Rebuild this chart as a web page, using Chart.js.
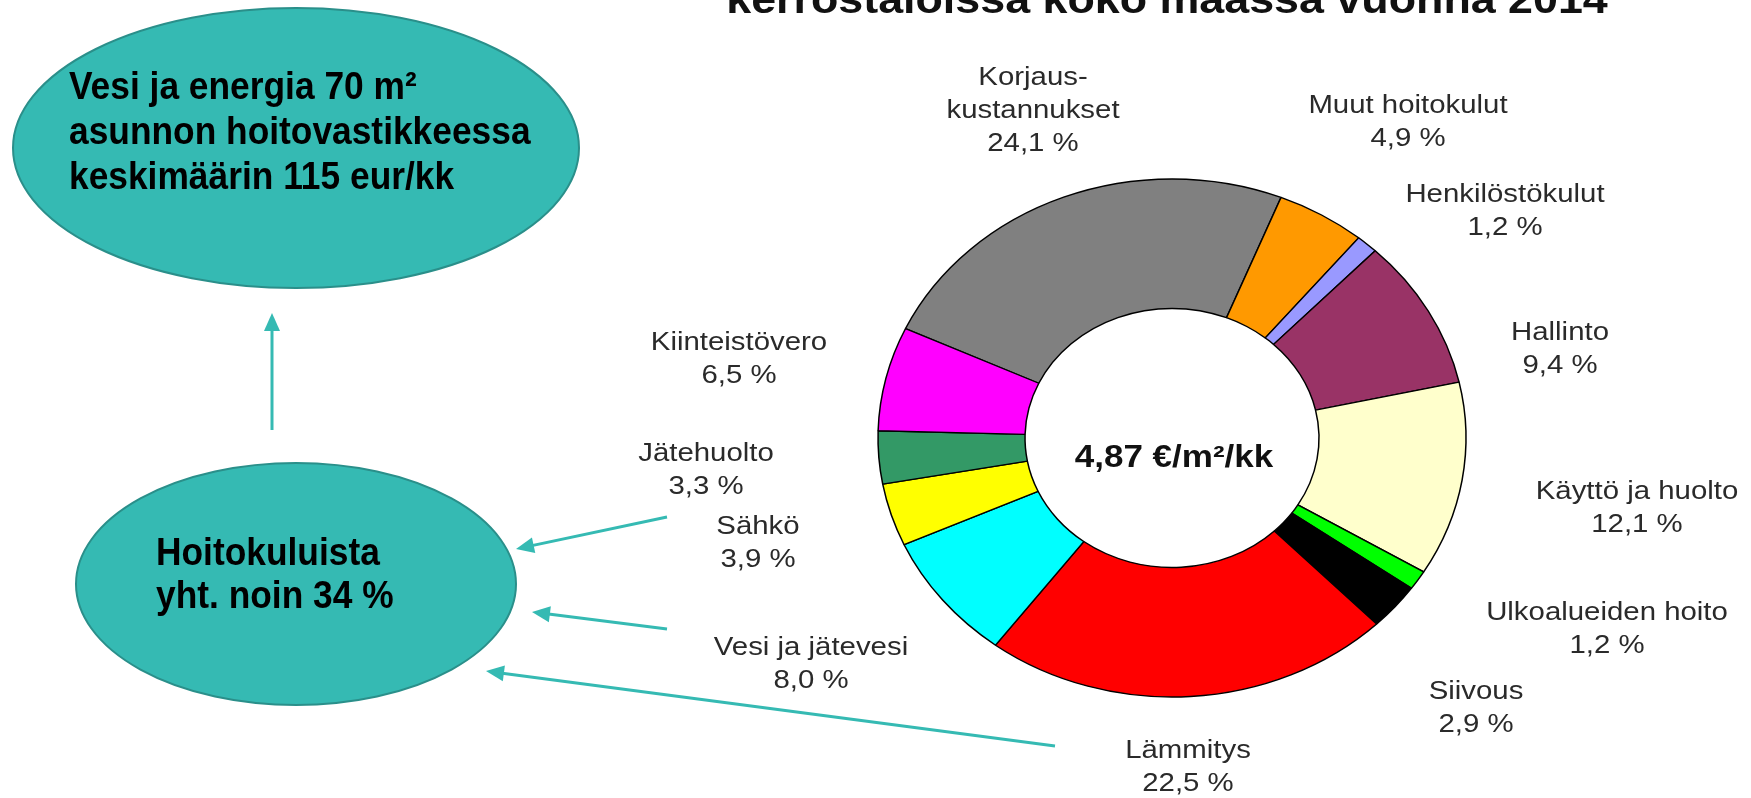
<!DOCTYPE html>
<html lang="fi">
<head>
<meta charset="UTF-8">
<title>Hoitokulut 2014</title>
<script src="https://cdn.jsdelivr.net/npm/chart.js"></script>
<style>
  html, body { margin: 0; padding: 0; background: #fff; overflow: hidden; }
  canvas { display: block; }
</style>
</head>
<body>
<canvas id="kaavio" width="1751" height="798"></canvas>
<script>
    // data
    const kategoriat = ['Korjaus-\nkustannukset', 'Muut hoitokulut', 'Henkilöstökulut', 'Hallinto',
        'Käyttö ja huolto', 'Ulkoalueiden hoito', 'Siivous', 'Lämmitys', 'Vesi ja jätevesi',
        'Sähkö', 'Jätehuolto', 'Kiinteistövero'];
    const osuudet = [24.1, 4.9, 1.2, 9.4, 12.1, 1.2, 2.9, 22.5, 8.0, 3.9, 3.3, 6.5];
    const varit = ['#808080', '#ff9900', '#9999ff', '#993366', '#ffffcc', '#00ff00',
        '#000000', '#ff0000', '#00ffff', '#ffff00', '#339966', '#ff00ff'];
    const keskiteksti = '4,87 €/m²/kk';
    const otsikko = 'kerrostaloissa koko maassa vuonna 2014';
    const laatikko1 = ['Vesi ja energia 70 m²', 'asunnon hoitovastikkeessa', 'keskimäärin 115 eur/kk'];
    const laatikko2 = ['Hoitokuluista', 'yht. noin 34 %'];

    // layout (label centres, first line)
    const nimiPaikat = [[1033, 78], [1408, 106], [1505, 195], [1560, 333], [1637, 492], [1607, 613],
        [1476, 692], [1188, 751], [811, 648], [758, 527], [706, 454], [739, 343]];
    const teal = '#35bab3';
    const tealReuna = '#2a8f8a';
    const venytys = 1.13;      // the original picture is stretched sideways
    const litistys = 259 / 294; // donut height / width

    function prosentti(v) {
        return v.toFixed(1).replace('.', ',') + ' %';
    }

    function teksti(ctx, str, x, y, font, color, sx, align) {
        ctx.save();
        ctx.translate(x, y);
        ctx.scale(sx, 1);
        ctx.font = font;
        ctx.fillStyle = color;
        ctx.textAlign = align || 'center';
        ctx.textBaseline = 'middle';
        ctx.fillText(str, 0, 0);
        ctx.restore();
    }

    function ellipsi(ctx, x, y, rx, ry) {
        ctx.save();
        ctx.beginPath();
        ctx.ellipse(x, y, rx, ry, 0, 0, Math.PI * 2);
        ctx.fillStyle = teal;
        ctx.fill();
        ctx.lineWidth = 2;
        ctx.strokeStyle = tealReuna;
        ctx.stroke();
        ctx.restore();
    }

    function nuoli(ctx, x1, y1, x2, y2) {
        const a = Math.atan2(y2 - y1, x2 - x1);
        const c = Math.cos(a), s = Math.sin(a);
        const pit = 18, lev = 8;
        ctx.save();
        ctx.strokeStyle = teal;
        ctx.fillStyle = teal;
        ctx.lineWidth = 3;
        ctx.beginPath();
        ctx.moveTo(x1, y1);
        ctx.lineTo(x2 - c * pit * 0.7, y2 - s * pit * 0.7);
        ctx.stroke();
        ctx.beginPath();
        ctx.moveTo(x2, y2);
        ctx.lineTo(x2 - c * pit - s * lev, y2 - s * pit + c * lev);
        ctx.lineTo(x2 - c * pit + s * lev, y2 - s * pit - c * lev);
        ctx.closePath();
        ctx.fill();
        ctx.restore();
    }

    const litistaja = {
        id: 'litistaja',
        beforeDatasetsDraw(chart) {
            const ctx = chart.ctx;
            const arc = chart.getDatasetMeta(0).data[0];
            ctx.save();
            ctx.translate(arc.x, arc.y);
            ctx.scale(1, litistys);
            ctx.translate(-arc.x, -arc.y);
        },
        afterDatasetsDraw(chart) {
            chart.ctx.restore();
        }
    };

    const koristeet = {
        id: 'koristeet',
        afterDraw(chart) {
            const ctx = chart.ctx;
            const arc = chart.getDatasetMeta(0).data[0];

            teksti(ctx, otsikko, 1167, 2, 'bold 40px "Liberation Sans", Arial, sans-serif', '#111', 1.12);

            ellipsi(ctx, 296, 148, 283, 140);
            laatikko1.forEach((r, i) => {
                teksti(ctx, r, 69, 89 + i * 45, 'bold 38px "Liberation Sans", Arial, sans-serif', '#000', 0.93, 'left');
            });
            nuoli(ctx, 272, 430, 272, 313);

            ellipsi(ctx, 296, 584, 220, 121);
            laatikko2.forEach((r, i) => {
                teksti(ctx, r, 156, 555 + i * 43, 'bold 38px "Liberation Sans", Arial, sans-serif', '#000', 0.93, 'left');
            });
            nuoli(ctx, 667, 517, 516, 549);
            nuoli(ctx, 667, 629, 532, 612);
            nuoli(ctx, 1055, 746, 486, 671);

            // slice labels
            kategoriat.forEach((k, i) => {
                const rivit = k.split('\n').concat(prosentti(osuudet[i]));
                const [x, y] = nimiPaikat[i];
                rivit.forEach((r, j) => {
                    teksti(ctx, r, x, y + j * 33, '26px "Liberation Sans", Arial, sans-serif', '#2a2a2a', venytys);
                });
            });

            teksti(ctx, keskiteksti, arc.x + 2, arc.y + 20, 'bold 31px "Liberation Sans", Arial, sans-serif', '#111', venytys);
        }
    };

    new Chart(document.getElementById('kaavio'), {
        type: 'doughnut',
        data: {
            labels: kategoriat,
            datasets: [{
                data: osuudet,
                backgroundColor: varit,
                borderColor: '#000',
                borderWidth: 1.5
            }]
        },
        options: {
            responsive: false,
            animation: false,
            rotation: -65,
            radius: 294,
            cutout: '50%',
            layout: { padding: { left: 872, right: 279, top: 138, bottom: 60 } },
            plugins: {
                legend: { display: false },
                tooltip: { enabled: false }
            }
        },
        plugins: [litistaja, koristeet]
    });
</script>
</body>
</html>
